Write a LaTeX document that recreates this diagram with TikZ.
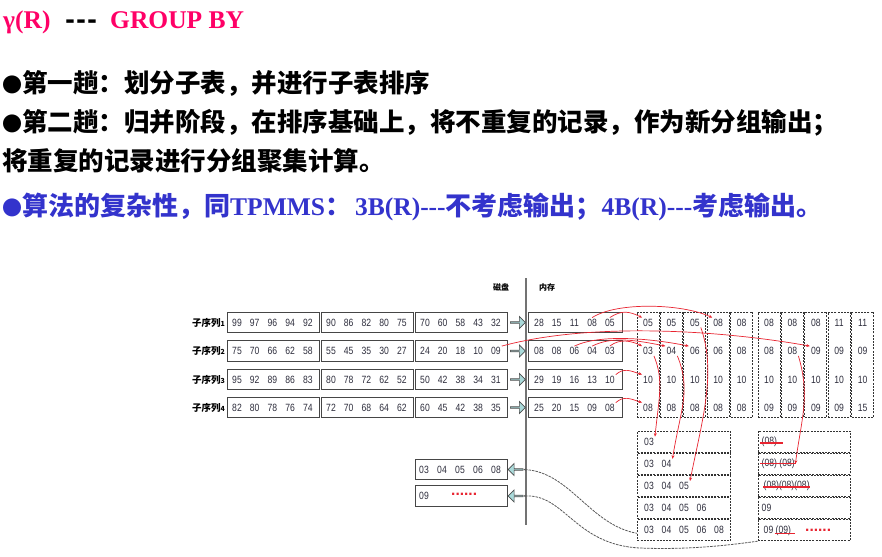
\documentclass[tikz,border=0pt]{standalone}
\usepackage{fontspec}
\setmainfont{Liberation Serif}
\newfontfamily\cjk{Noto Sans CJK SC}
\newfontfamily\numfont{Liberation Sans}[FakeStretch=0.82]
\newfontfamily\dotfont{Liberation Sans}
\newfontfamily\dashfont{DejaVu Sans}
\usetikzlibrary{shapes.arrows,arrows.meta}

\definecolor{titlered}{RGB}{255,0,102}
\definecolor{bulletblue}{RGB}{51,51,204}
\definecolor{numgray}{RGB}{45,45,60}
\definecolor{markred}{RGB}{232,36,48}
\definecolor{arrowfill}{RGB}{170,218,218}
\definecolor{boxline}{RGB}{70,70,70}

% a framed block holding a row of numbers:
% name, left x, centre y, width, first offset, pitch, values
\newcommand\numblock[7]{%
  \node[solidbox, minimum width=#4pt, anchor=west] (#1) at (#2,#3) {};
  \foreach \v [count=\k] in {#7}
    \node[num] (#1-\k) at ({#2+#5+(\k-1)*#6},#3) {\v};
}
% same, with a dashed frame
\newcommand\dashblock[7]{%
  \node[dashbox, minimum width=#4pt, minimum height=21pt, anchor=west] (#1) at (#2,#3) {};
  \foreach \v [count=\k] in {#7}
    \node[num] (#1-\k) at ({#2+#5+(\k-1)*#6},#3) {\v};
}
% smaller bullet in front of a text line
\newcommand\dotbullet{{\fontsize{20}{20}\selectfont ●}}
% Chinese run inside the blue line
\newcommand\bluecjk[1]{{\cjk\bfseries\fontsize{26}{30}\selectfont #1}}

\begin{document}
\begin{tikzpicture}[x=1pt,y=-1pt,
  solidbox/.style={draw=boxline, line width=1.2pt, fill=white, minimum height=20.5pt, inner sep=0pt},
  dashbox/.style={draw=black!80, line width=0.8pt, dash pattern=on 2pt off 1.2pt, inner sep=0pt},
  num/.style={font=\numfont\fontsize{10.5}{10.5}\selectfont, text=numgray, inner sep=1pt},
  feedarrow/.style={single arrow, draw=black!70, fill=arrowfill, line width=0.7pt,
    minimum height=15pt, minimum width=12pt, single arrow head extend=2.5pt, inner sep=0pt},
  redarrow/.style={draw=markred, line width=0.7pt, -{Stealth[length=3.5pt,width=3pt]}},
  flowline/.style={draw=black!65, line width=0.8pt, dash pattern=on 2.5pt off 1pt},
  strike/.style={draw=markred, line width=1.2pt},
  reddots/.style={text=markred, font=\dotfont\bfseries\fontsize{15.5}{15.5}\selectfont, inner sep=0pt, anchor=base west},
  rowlabel/.style={font=\cjk\bfseries\fontsize{9.5}{9.5}\selectfont, anchor=east, inner sep=0pt},
  bodyline/.style={anchor=base west, inner sep=0pt, font=\cjk\bfseries\fontsize{25.5}{30}\selectfont},
  titlepart/.style={anchor=base west, inner sep=0pt, font=\bfseries\fontsize{25.5}{30}\selectfont}
]
\useasboundingbox (0,0) rectangle (882,556);
\fill[white] (0,0) rectangle (882,556);

% ---------- heading and text ----------
\node[titlepart, text=titlered] (ttl1) at (3,29) {γ(R)};
\node[titlepart, font=\dashfont\bfseries\fontsize{24}{30}\selectfont] (ttl2) at (65,29) {-\hspace{1pt}-\hspace{1pt}-};
\node[titlepart, text=titlered] (ttl3) at (110,29) {GROUP BY};

\node[bodyline] (ln1) at (2,92.5) {\dotbullet 第一趟：划分子表，并进行子表排序};
\node[bodyline] (ln2) at (2,132) {\dotbullet 第二趟：归并阶段，在排序基础上，将不重复的记录，作为新分组输出；};
\node[bodyline] (ln3) at (2,171) {将重复的记录进行分组聚集计算。};
\node[bodyline, text=bulletblue, font=\bfseries\fontsize{25.5}{30}\selectfont] (ln4) at (2,215)
  {\bluecjk{\dotbullet 算法的复杂性，同}TPMMS\bluecjk{：}\hspace{4pt}3B(R)-{}-{}-\bluecjk{不考虑输出；}4B(R)-{}-{}-\bluecjk{考虑输出。}};

% ---------- disk / memory divider ----------
\coordinate (sepTop) at (526,278);
\coordinate (sepBot) at (526,525);
\draw[black!55, line width=1.2pt] (sepTop) -- (sepBot);
\node[font=\cjk\bfseries\fontsize{8}{8}\selectfont] (disklab) at (501,287) {磁盘};
\node[font=\cjk\bfseries\fontsize{8}{8}\selectfont] (memlab) at (547,287) {内存};

% ---------- sorted sublists on disk, first blocks in memory ----------
\node[rowlabel] (lab1) at (225,322.5) {子序列{\fontsize{7}{7}\selectfont 1}};
\node[rowlabel] (lab2) at (225,351) {子序列{\fontsize{7}{7}\selectfont 2}};
\node[rowlabel] (lab3) at (225,379.5) {子序列{\fontsize{7}{7}\selectfont 3}};
\node[rowlabel] (lab4) at (225,407.5) {子序列{\fontsize{7}{7}\selectfont 4}};

\numblock{d1-1}{227}{322.5}{92}{10}{17.7}{99,97,96,94,92}
\numblock{d1-2}{321}{322.5}{92}{10}{17.7}{90,86,82,80,75}
\numblock{d1-3}{415}{322.5}{92}{10}{17.7}{70,60,58,43,32}
\numblock{m1}{528}{322.5}{94}{11}{17.7}{28,15,11,08,05}

\numblock{d2-1}{227}{351}{92}{10}{17.7}{75,70,66,62,58}
\numblock{d2-2}{321}{351}{92}{10}{17.7}{55,45,35,30,27}
\numblock{d2-3}{415}{351}{92}{10}{17.7}{24,20,18,10,09}
\numblock{m2}{528}{351}{94}{11}{17.7}{08,08,06,04,03}

\numblock{d3-1}{227}{379.5}{92}{10}{17.7}{95,92,89,86,83}
\numblock{d3-2}{321}{379.5}{92}{10}{17.7}{80,78,72,62,52}
\numblock{d3-3}{415}{379.5}{92}{10}{17.7}{50,42,38,34,31}
\numblock{m3}{528}{379.5}{94}{11}{17.7}{29,19,16,13,10}

\numblock{d4-1}{227}{407.5}{92}{10}{17.7}{82,80,78,76,74}
\numblock{d4-2}{321}{407.5}{92}{10}{17.7}{72,70,68,64,62}
\numblock{d4-3}{415}{407.5}{92}{10}{17.7}{60,45,42,38,35}
\numblock{m4}{528}{407.5}{94}{11}{17.7}{25,20,15,09,08}

\foreach \r/\y in {1/322.5,2/351,3/379.5,4/407.5}
  \node[feedarrow] (ia\r) at (517.5,\y) {};

% ---------- merge states, one dashed column per step ----------
\foreach \i/\x/\a/\b/\c/\d in {1/648/05/03/10/08, 2/671.4/05/04/10/08, 3/694.8/05/06/10/08,
    4/718.2/08/06/10/08, 5/741.6/08/08/10/08, 6/769/08/08/10/09, 7/792.4/08/08/10/09,
    8/815.8/08/09/10/09, 9/839.2/11/09/10/09, 10/862.6/11/09/10/15} {
  \node[dashbox, minimum width=22pt, minimum height=105pt] (col\i) at (\x,364.5) {};
  \node[num] (c\i-1) at (\x,322.5) {\a};
  \node[num] (c\i-2) at (\x,351) {\b};
  \node[num] (c\i-3) at (\x,379.5) {\c};
  \node[num] (c\i-4) at (\x,407.5) {\d};
}

% ---------- output buffer states ----------
\dashblock{lb1}{637}{441.5}{93}{12}{17.5}{03}
\dashblock{lb2}{637}{463.7}{93}{12}{17.5}{03,04}
\dashblock{lb3}{637}{485.9}{93}{12}{17.5}{03,04,05}
\dashblock{lb4}{637}{508.1}{93}{12}{17.5}{03,04,05,06}
\dashblock{lb5}{637}{530.3}{93}{12}{17.5}{03,04,05,06,08}

\foreach \k/\y in {1/441.5,2/463.7,3/485.9,4/508.1,5/530.3}
  \node[dashbox, minimum width=92pt, minimum height=21pt] (rb\k) at (804,\y) {};
\node[num, anchor=west, inner sep=0.5pt] (rt1) at (761,441.5) {(08)};
\node[num, anchor=west, inner sep=0.5pt] (rt2) at (761,463.7) {(08) (08)};
\node[num, anchor=west, inner sep=0.5pt] (rt3) at (763,485.9) {(08)(08)(08)};
\node[num, anchor=west, inner sep=0.5pt] (rt4) at (761,508.1) {09};
\node[num, anchor=west, inner sep=0.5pt] (rt5) at (763,530.3) {09 (09)};
\draw[strike] ([xshift=-1pt,yshift=-1.5pt]rt1.west) -- ([xshift=5pt,yshift=-1.5pt]rt1.east);
\draw[strike] ([xshift=-1pt,yshift=0.5pt]rt2.west) -- ([xshift=1pt,yshift=0.5pt]rt2.east);
\draw[strike] ([xshift=0pt,yshift=-1pt]rt3.west) -- ([xshift=0pt,yshift=-1pt]rt3.east);
\draw[strike] ([xshift=-17pt,yshift=-3pt]rt5.east) -- ([xshift=3pt,yshift=-3pt]rt5.east);
\node[reddots] (rdots) at (805,531.5) {......};

% ---------- output blocks written back to disk ----------
\numblock{ob1}{415}{469.5}{92}{9}{18}{03,04,05,06,08}
\numblock{ob2}{415}{496}{92}{9}{18}{09}
\node[reddots] (odots) at (451,495.5) {......};
\node[feedarrow, shape border rotate=180] (oa1) at (516,469.5) {};
\node[feedarrow, shape border rotate=180] (oa2) at (516,496) {};

\coordinate (lowbend) at (640,548);
\draw[flowline, {Stealth[length=2.5pt,width=2.5pt]}-] (oa1.tail)
  .. controls (570,472) and (590,525) .. ([yshift=-3pt]lb5.west);
\draw[flowline, {Stealth[length=2.5pt,width=2.5pt]}-] (oa2.tail)
  .. controls (565,494) and (575,545) .. (lowbend)
  .. controls (690,550) and (730,545) .. (rb5.south west);

% ---------- record movements ----------
\draw[redarrow] (m1-4.north) .. controls +(25,-16) and +(-30,-14) .. (c4-1.north west);
\draw[redarrow] (m1-5.north) .. controls +(12,-8) and +(-12,-6) .. (c1-1.north west);
\draw[redarrow] (m2-5.north) .. controls +(10,-8) and +(-10,-5) .. (c1-2.north west);
\draw[redarrow] (m2-4.north) .. controls +(20,-10) and +(-30,-6) .. (c2-2.north west);
\draw[redarrow] (m2-3.north) .. controls +(25,-12) and +(-40,-8) .. (c3-2.north west);
\draw[redarrow] (d2-3-5.north east) .. controls (590,322) and (720,330) .. (c8-2.north west);
\draw[redarrow] (m3-5.north east) .. controls +(8,-7) and +(-12,-4) .. (c1-3.north west);
\draw[redarrow] (m4-5.north east) .. controls +(8,-7) and +(-12,-4) .. (c1-4.north west);

\draw[redarrow] (c1-2.south east) .. controls +(10,25) and +(4,-40) .. (lb1-1.north east);
\draw[redarrow] (c2-2.south east) .. controls +(14,35) and +(8,-50) .. (lb2-2.north east);
\draw[redarrow] (c3-1.south east) .. controls +(16,45) and +(12,-60) .. (lb3-3.north east);
\draw[redarrow] (c7-2.south east) .. controls +(12,40) and +(6,-45) .. (rt2.east);
\end{tikzpicture}
\end{document}
